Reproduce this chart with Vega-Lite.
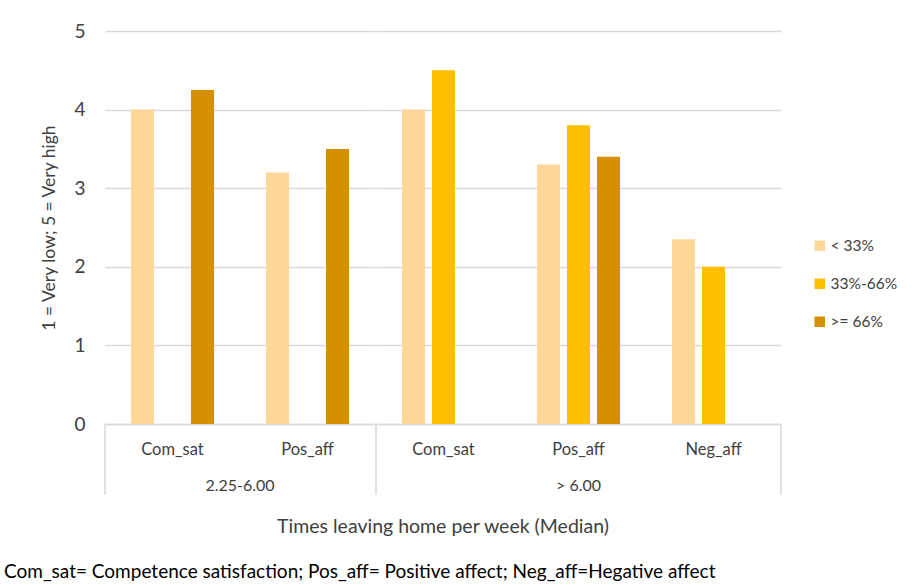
{
  "$schema": "https://vega.github.io/schema/vega-lite/v6.json",
  "background": "white",
  "padding": {"left": 3, "top": 22, "right": 5, "bottom": 5},
  "config": {
    "font": "Lato",
    "view": {"stroke": null},
    "axis": {"labelFont": "Lato", "titleFont": "Lato", "labelColor": "#404040", "titleColor": "#404040"},
    "header": {"labelFont": "Lato", "titleFont": "Lato"},
    "legend": {"labelFont": "Lato"},
    "title": {"font": "Lato"}
  },
  "title": {
    "text": "Com_sat= Competence satisfaction; Pos_aff= Positive affect; Neg_aff=Hegative affect",
    "orient": "bottom",
    "anchor": "start",
    "frame": "bounds",
    "fontSize": 19,
    "fontWeight": "normal",
    "color": "#000000",
    "offset": 26,
    "dx": -37
  },
  "data": {
    "values": [
      {"group": "2.25-6.00", "cat": "Com_sat", "series": "< 33%", "value": 4.0},
      {"group": "2.25-6.00", "cat": "Com_sat", "series": ">= 66%", "value": 4.25},
      {"group": "2.25-6.00", "cat": "Pos_aff", "series": "< 33%", "value": 3.2},
      {"group": "2.25-6.00", "cat": "Pos_aff", "series": ">= 66%", "value": 3.5},
      {"group": "> 6.00", "cat": "Com_sat", "series": "< 33%", "value": 4.0},
      {"group": "> 6.00", "cat": "Com_sat", "series": "33%-66%", "value": 4.5},
      {"group": "> 6.00", "cat": "Pos_aff", "series": "< 33%", "value": 3.3},
      {"group": "> 6.00", "cat": "Pos_aff", "series": "33%-66%", "value": 3.8},
      {"group": "> 6.00", "cat": "Pos_aff", "series": ">= 66%", "value": 3.4},
      {"group": "> 6.00", "cat": "Neg_aff", "series": "< 33%", "value": 2.35},
      {"group": "> 6.00", "cat": "Neg_aff", "series": "33%-66%", "value": 2.0}
    ]
  },
  "facet": {
    "column": {
      "field": "group",
      "type": "nominal",
      "sort": ["2.25-6.00", "> 6.00"],
      "title": "Times leaving home per week (Median)",
      "header": {
        "labelOrient": "bottom",
        "titleOrient": "bottom",
        "labelFontSize": 16,
        "labelColor": "#404040",
        "labelPadding": -18,
        "titleFontSize": 19.5,
        "titleFontWeight": "normal",
        "titleColor": "#404040",
        "titlePadding": 12
      }
    }
  },
  "spacing": 0,
  "resolve": {"scale": {"x": "independent"}},
  "spec": {
    "width": {"step": 30},
    "height": 393,
    "layer": [
      {
        "mark": {"type": "bar", "width": 23},
        "encoding": {
          "x": {
            "field": "cat",
            "type": "nominal",
            "sort": ["Com_sat", "Pos_aff", "Neg_aff"],
            "scale": {"paddingInner": 0, "paddingOuter": 0},
            "axis": {
              "title": null,
              "labelAngle": 0,
              "ticks": false,
              "domainColor": "#d9d9d9",
              "domainWidth": 1.5,
              "labelFontSize": 16.5,
              "labelPadding": 17
            }
          },
          "xOffset": {
            "field": "series",
            "type": "nominal",
            "scale": {"domain": ["< 33%", "33%-66%", ">= 66%"], "paddingInner": 0, "paddingOuter": 0.75}
          },
          "y": {
            "field": "value",
            "type": "quantitative",
            "scale": {"domain": [0, 5], "nice": false},
            "axis": {
              "title": "1 = Very low; 5 = Very high",
              "titleFontSize": 17.5,
              "titleFontWeight": "normal",
              "titlePadding": 15,
              "values": [0, 1, 2, 3, 4, 5],
              "format": "d",
              "domain": false,
              "ticks": false,
              "gridColor": "#d9d9d9",
              "gridWidth": 1.5,
              "labelFontSize": 19,
              "labelPadding": 19
            }
          },
          "color": {
            "field": "series",
            "type": "nominal",
            "scale": {"domain": ["< 33%", "33%-66%", ">= 66%"], "range": ["#FFD899", "#FFBF00", "#D58F00"]},
            "legend": {
              "title": null,
              "orient": "none",
              "legendX": 707,
              "legendY": 207,
              "symbolType": "square",
              "symbolSize": 110,
              "symbolOpacity": 1,
              "labelFontSize": 15.5,
              "labelColor": "#404040",
              "rowPadding": 21,
              "labelOffset": 3
            }
          }
        }
      },
      {
        "transform": [{"filter": "datum.cat === 'Com_sat' && datum.series === '< 33%'"}],
        "mark": {"type": "rule", "color": "#d9d9d9", "strokeWidth": 1.5, "clip": false},
        "encoding": {
          "x": {"field": "cat", "type": "nominal", "sort": ["Com_sat", "Pos_aff", "Neg_aff"], "bandPosition": 0},
          "y": {"datum": 0},
          "y2": {"datum": -0.9}
        }
      },
      {
        "transform": [{"filter": "datum.cat === 'Neg_aff' && datum.series === '< 33%'"}],
        "mark": {"type": "rule", "color": "#d9d9d9", "strokeWidth": 1.5, "clip": false},
        "encoding": {
          "x": {"field": "cat", "type": "nominal", "sort": ["Com_sat", "Pos_aff", "Neg_aff"], "bandPosition": 1},
          "y": {"datum": 0},
          "y2": {"datum": -0.9}
        }
      }
    ]
  }
}
